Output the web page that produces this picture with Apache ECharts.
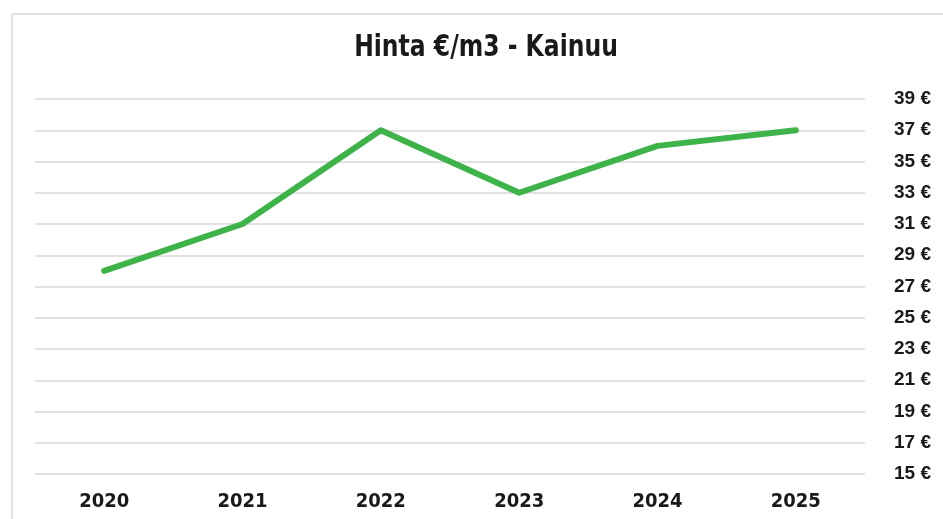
<!DOCTYPE html>
<html>
<head>
<meta charset="utf-8">
<script src="https://cdn.jsdelivr.net/npm/echarts@6/dist/echarts.min.js"></script>
<style>
html,body{margin:0;padding:0;background:#fff;}
#frame{position:absolute;left:11px;top:13px;width:960px;height:540px;border:2px solid #e2e2e2;box-sizing:border-box;}
#chart{position:absolute;left:0;top:0;width:943px;height:519px;}
</style>
</head>
<body>
<div id="frame"></div>
<div id="chart"></div>
<script>
const titleText = 'Hinta €/m3 - Kainuu';
const years = ['2020', '2021', '2022', '2023', '2024', '2025'];
const prices = [28, 31, 37, 33, 36, 37];
const yMin = 15;
const yMax = 39;
const yStep = 2;

const chart = echarts.init(document.getElementById('chart'), null, {renderer: 'canvas'});
chart.setOption({
  animation: false,
  backgroundColor: 'transparent',
  graphic: [{
    type: 'text',
    x: 486,
    y: 48,
    scaleX: 0.87,
    style: {
      text: titleText,
      fontFamily: '"DejaVu Sans Condensed", "DejaVu Sans", sans-serif',
      fontWeight: 'bold',
      fontSize: 30,
      fill: '#1a1a1a',
      align: 'center',
      verticalAlign: 'middle'
    }
  }],
  grid: {left: 35, right: 78, top: 99, bottom: 45, containLabel: false},
  xAxis: {
    type: 'category',
    data: years,
    boundaryGap: true,
    axisLine: {show: false},
    axisTick: {show: false},
    axisLabel: {
      margin: 18,
      fontFamily: '"DejaVu Sans Condensed", "DejaVu Sans", sans-serif',
      fontWeight: 'bold',
      fontSize: 20,
      color: '#1a1a1a'
    }
  },
  yAxis: {
    type: 'value',
    position: 'right',
    min: yMin,
    max: yMax,
    interval: yStep,
    axisLine: {show: false},
    axisTick: {show: false},
    splitLine: {lineStyle: {color: '#d9d9d9', width: 1.5}},
    axisLabel: {
      margin: 29,
      fontFamily: '"Liberation Sans", Arial, sans-serif',
      fontWeight: 'bold',
      fontSize: 19,
      color: '#1a1a1a',
      formatter: v => v + ' €'
    }
  },
  series: [{
    type: 'line',
    data: prices,
    symbol: 'none',
    lineStyle: {color: '#3eb34a', width: 6, cap: 'round', join: 'round'}
  }]
});
</script>
</body>
</html>
